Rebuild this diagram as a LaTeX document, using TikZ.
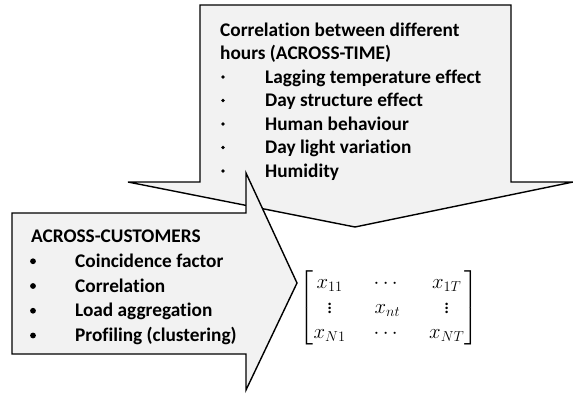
\documentclass[tikz,border=0pt]{standalone}
\usepackage{amsmath}
\usepackage{fontspec}
\setmainfont{Carlito}[Ligatures=NoCommon]
\usepackage{tikz}
\usetikzlibrary{positioning}
\definecolor{calloutgray}{HTML}{F2F2F2}
\tikzset{callout-shape/.style={draw=black,fill=calloutgray,line width=1.4pt,line join=miter}}
\tikzset{block-text/.style={anchor=base west,inner sep=0pt,font=\fontsize{19.3}{23}\selectfont\bfseries}}
\tikzset{small-dot/.style={circle,fill=black,inner sep=0pt,minimum size=3.6pt}}
\tikzset{big-dot/.style={circle,fill=black,inner sep=0pt,minimum size=5.8pt}}

\begin{document}
\begin{tikzpicture}[x=1pt,y=-1pt]
            \useasboundingbox (0,0) rectangle (573,394);

            % across-time callout
            \draw [callout-shape] (200,5) -- (511,5) -- (511,182) -- (573,182)
                -- (355,227) -- (128,182) -- (200,182) -- cycle;
            \node [block-text] (time-head-1) at (220,36) {Correlation between different};
            \node [block-text] (time-head-2) at (220,59.5) {hours (ACROSS-TIME)};
            \foreach \txt [count=\i] in {Lagging temperature effect, Day structure effect,
                Human behaviour, Day light variation, Humidity} {
                \node [small-dot] (time-dot-\i) at (223,53.5+23.5*\i) {};
                \node [block-text] (time-item-\i) at (265,59.5+23.5*\i) {\txt};
            }

            % across-customers callout
            \draw [callout-shape] (12,213) -- (246,213) -- (246,173) -- (297,283)
                -- (246,390) -- (246,354) -- (12,354) -- cycle;
            \node [block-text] (cust-head) at (31,242.5) {ACROSS-CUSTOMERS};
            \foreach \txt [count=\i] in {Coincidence factor, Correlation,
                Load aggregation, Profiling (clustering)} {
                \node [big-dot] (cust-dot-\i) at (33,236.5+24.75*\i) {};
                \node [block-text] (cust-item-\i) at (75,242.5+24.75*\i) {\txt};
            }

            \node (load-matrix) at (389,308) {\huge\setlength{\arraycolsep}{14pt}$\begin{bmatrix}
                x_{11} & \cdots & x_{1T}\\
                \vdots & x_{nt} & \vdots\\
                x_{N1} & \cdots & x_{NT}
            \end{bmatrix}$};
        \end{tikzpicture}
\end{document}
